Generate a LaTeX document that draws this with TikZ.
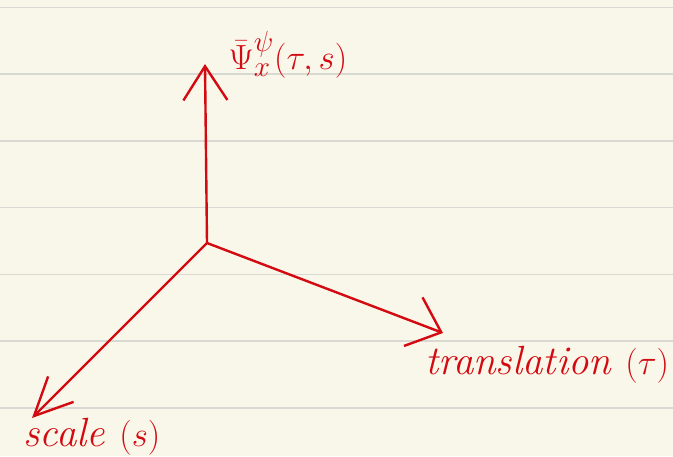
\documentclass[tikz,border=0pt]{standalone}
\usepackage{amsmath,amssymb}
\usetikzlibrary{positioning,arrows.meta}
\definecolor{InkRed}{RGB}{212,10,18}
\definecolor{PaperCream}{RGB}{249,247,233}
\definecolor{RuleGray}{RGB}{217,217,212}
\tikzset{
  axis/.style={draw=InkRed,line width=0.06cm,line cap=round,line join=round},
  rule/.style={draw=RuleGray,line width=0.04cm},
  lbl/.style={text=InkRed,inner sep=0pt,font=\fontsize{29}{34}\selectfont\itshape},
}
\begin{document}
\begin{tikzpicture}[x=0.025cm,y=-0.025cm]
\fill[PaperCream] (0,0) rectangle (673,456);
\useasboundingbox (0,0) rectangle (673,456);
\foreach \k in {0,...,6}
  \draw[rule] (0,7.5+66.7*\k) -- (673,7.5+66.7*\k);
\coordinate (O) at (207,243);
\coordinate (Yend) at (205,64);
\coordinate (Xend) at (443,333);
\coordinate (Send) at (32,418);
\draw[axis,-{Straight Barb[length=0.85cm,width=1.1cm,line width=0.06cm]}] (O) -- (Yend);
\draw[axis,-{Straight Barb[length=0.75cm,width=1.3cm,line width=0.06cm]}] (O) -- (Xend);
\draw[axis,-{Straight Barb[length=0.95cm,width=0.9cm,line width=0.06cm]}] (O) -- (Send);
\node[lbl] (psi) at (288,55) {$\bar{\Psi}_x^{\psi}(\tau,s)$};
\node[lbl] (trans) at (547,365) {translation $(\tau)$};
\node[lbl] (scale) at (92,437) {scale $(s)$};
\end{tikzpicture}
\end{document}
